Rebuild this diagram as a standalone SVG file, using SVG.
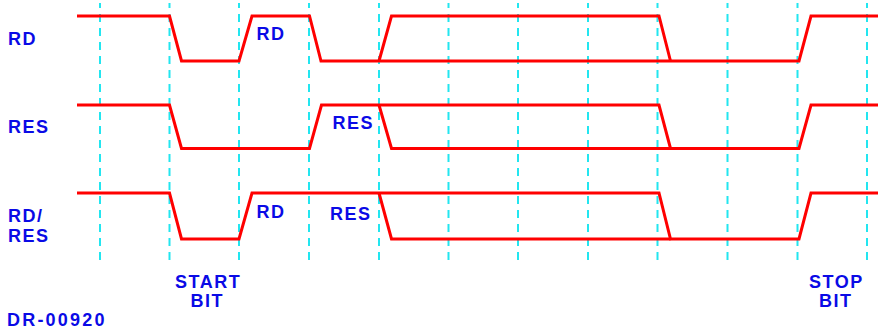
<svg xmlns="http://www.w3.org/2000/svg" width="878" height="329" viewBox="0 0 878 329">
<style>
.grid{stroke:#22E6F0;stroke-width:2;stroke-dasharray:8 6;stroke-dashoffset:3;fill:none}
.wave{stroke:#FF0000;stroke-width:3;fill:none;stroke-linejoin:miter}
.lbl{font-family:"Liberation Sans",Arial,sans-serif;font-weight:bold;font-size:18px;fill:#0A0AE6;letter-spacing:1.5px}
</style>
<rect width="878" height="329" fill="#FFFFFF"/>
<g id="gridlines">
<line class="grid" x1="100" y1="3" x2="100" y2="261"/>
<line class="grid" x1="169.5" y1="3" x2="169.5" y2="261"/>
<line class="grid" x1="239" y1="3" x2="239" y2="261"/>
<line class="grid" x1="309" y1="3" x2="309" y2="261"/>
<line class="grid" x1="379" y1="3" x2="379" y2="261"/>
<line class="grid" x1="448.5" y1="3" x2="448.5" y2="261"/>
<line class="grid" x1="518" y1="3" x2="518" y2="261"/>
<line class="grid" x1="588" y1="3" x2="588" y2="261"/>
<line class="grid" x1="657.5" y1="3" x2="657.5" y2="261"/>
<line class="grid" x1="727.5" y1="3" x2="727.5" y2="261"/>
<line class="grid" x1="797.5" y1="3" x2="797.5" y2="261"/>
<line class="grid" x1="867" y1="3" x2="867" y2="261"/>
</g>
<g id="sig-rd">
<path class="wave" d="M77,16 H169.5 L181.5,61 H239 L252,16 H309.5 L321,61 H799 L811,16 H878"/>
<path class="wave" d="M379,61 L391.5,16 H659 L670.5,61"/>
<text class="lbl" x="8" y="45">RD</text>
<text class="lbl" x="256.5" y="40">RD</text>
</g>
<g id="sig-res">
<path class="wave" d="M77,105 H169.5 L181.5,148.5 H309.5 L321.5,105 H659 L670.5,148.5 H799 L811,105 H878"/>
<path class="wave" d="M379,105 L391.5,148.5 H670.5"/>
<text class="lbl" x="8" y="133">RES</text>
<text class="lbl" x="332.5" y="129">RES</text>
</g>
<g id="sig-rdres">
<path class="wave" d="M77,193 H169.5 L181.5,239 H239 L252,193 H659 L670.5,239 H799 L811,193 H878"/>
<path class="wave" d="M379,193 L391.5,239 H670.5"/>
<text class="lbl" x="8" y="221.5">RD/</text>
<text class="lbl" x="8" y="241.5">RES</text>
<text class="lbl" x="256.5" y="218">RD</text>
<text class="lbl" x="330" y="220">RES</text>
</g>
<g id="annotations">
<text class="lbl" x="175" y="288">START</text>
<text class="lbl" x="190.5" y="307">BIT</text>
<text class="lbl" x="809" y="288">STOP</text>
<text class="lbl" x="819" y="307">BIT</text>
<text class="lbl" x="7" y="325.5" style="letter-spacing:2.2px">DR-00920</text>
</g>
</svg>
